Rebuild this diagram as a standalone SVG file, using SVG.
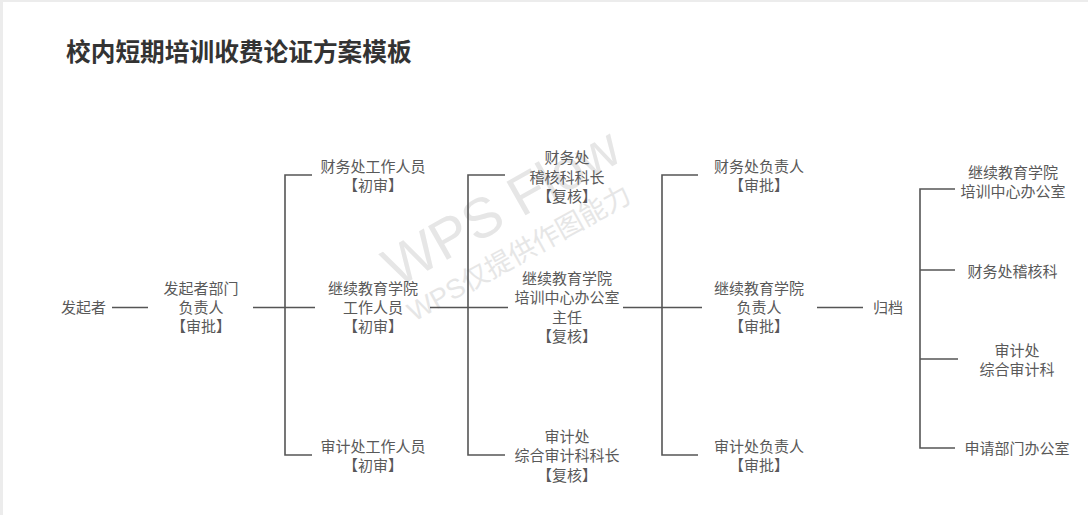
<svg xmlns="http://www.w3.org/2000/svg" width="1088" height="515" viewBox="0 0 1088 515">
  <style>
    .t { font-family: "Noto Sans CJK SC", "Noto Sans", sans-serif; font-size: 15px; fill: #595959; text-anchor: middle; }
    .title { font-family: "Noto Sans CJK SC", "Noto Sans", sans-serif; font-size: 24.7px; font-weight: bold; fill: #333333; }
    .c { fill: none; stroke: #555555; stroke-width: 1.6; }
    .wm { font-family: "Liberation Sans", "Noto Sans CJK SC", sans-serif; fill: #e6e6e6; }
  </style>
  <rect x="0" y="0" width="1088" height="515" fill="#ffffff"/>
  <rect x="0" y="0" width="1088" height="2" fill="#ececec"/>
  <rect x="0" y="0" width="3" height="515" fill="#ececec"/>

  <g id="watermark">
    <text class="wm" x="397" y="288" font-size="56" transform="rotate(-29.5 397 288)">WPS Flow</text>
    <text class="wm" x="414" y="322" font-size="27" transform="rotate(-29 414 322)">WPS仅提供作图能力</text>
  </g>

  <text class="title" x="66" y="61">校内短期培训收费论证方案模板</text>

  <g id="connectors">
    <path class="c" d="M112,307.5 H148"/>
    <path class="c" d="M253,307.5 H315"/>
    <path class="c" d="M312,175 H285 V455 H312"/>
    <path class="c" d="M430,307.5 H508"/>
    <path class="c" d="M505,175 H468 V455 H505"/>
    <path class="c" d="M623,307.5 H702"/>
    <path class="c" d="M698,175 H662 V455 H698"/>
    <path class="c" d="M817,307.5 H863"/>
    <path class="c" d="M955,189 H920 V448 H955"/>
    <path class="c" d="M920,270 H955"/>
    <path class="c" d="M920,359 H958"/>
  </g>

  <g id="n-initiator"><text class="t" x="83.5" y="312.5">发起者</text></g>
  <g id="n-dept-head"><text class="t" x="201" y="294">发起者部门<tspan x="201" dy="19">负责人</tspan><tspan x="201" dy="19">【审批】</tspan></text></g>

  <g id="n-finance-staff"><text class="t" x="373" y="172">财务处工作人员<tspan x="373" dy="19">【初审】</tspan></text></g>
  <g id="n-ce-staff"><text class="t" x="373" y="294">继续教育学院<tspan x="373" dy="19">工作人员</tspan><tspan x="373" dy="19">【初审】</tspan></text></g>
  <g id="n-audit-staff"><text class="t" x="373" y="451.5">审计处工作人员<tspan x="373" dy="19">【初审】</tspan></text></g>

  <g id="n-finance-chief"><text class="t" x="567" y="163">财务处<tspan x="567" dy="19.5">稽核科科长</tspan><tspan x="567" dy="19.5">【复核】</tspan></text></g>
  <g id="n-ce-director"><text class="t" x="567" y="283.5">继续教育学院<tspan x="567" dy="19.5">培训中心办公室</tspan><tspan x="567" dy="19.5">主任</tspan><tspan x="567" dy="19.5">【复核】</tspan></text></g>
  <g id="n-audit-chief"><text class="t" x="567" y="441.5">审计处<tspan x="567" dy="19.5">综合审计科科长</tspan><tspan x="567" dy="19.5">【复核】</tspan></text></g>

  <g id="n-finance-head"><text class="t" x="759" y="172">财务处负责人<tspan x="759" dy="19">【审批】</tspan></text></g>
  <g id="n-ce-head"><text class="t" x="759" y="294">继续教育学院<tspan x="759" dy="19">负责人</tspan><tspan x="759" dy="19">【审批】</tspan></text></g>
  <g id="n-audit-head"><text class="t" x="759" y="451.5">审计处负责人<tspan x="759" dy="19">【审批】</tspan></text></g>

  <g id="n-archive"><text class="t" x="888" y="312.5">归档</text></g>

  <g id="n-arch-ce"><text class="t" x="1013" y="177.5">继续教育学院<tspan x="1013" dy="19">培训中心办公室</tspan></text></g>
  <g id="n-arch-finance"><text class="t" x="1012.5" y="276.5">财务处稽核科</text></g>
  <g id="n-arch-audit"><text class="t" x="1017" y="355.5">审计处<tspan x="1017" dy="19">综合审计科</tspan></text></g>
  <g id="n-arch-dept"><text class="t" x="1017" y="453.5">申请部门办公室</text></g>
</svg>
